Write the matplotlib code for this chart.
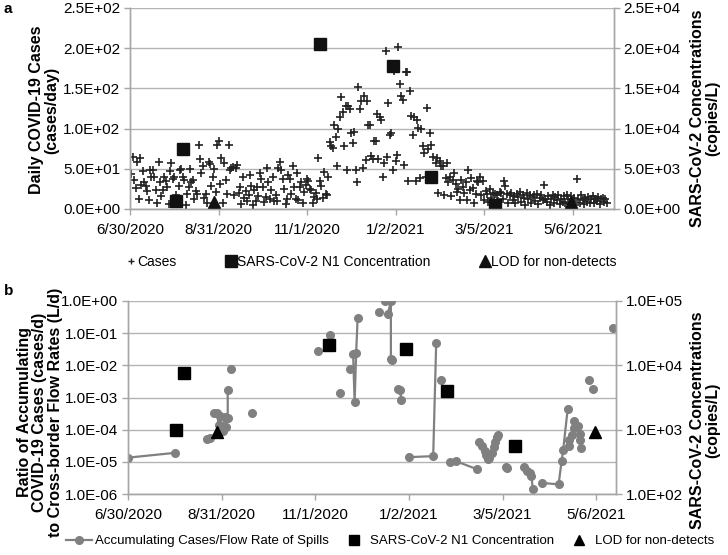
import numpy as np
import pandas as pd
import matplotlib
matplotlib.use("Agg")
import matplotlib.pyplot as plt
import matplotlib.dates as mdates
from matplotlib.lines import Line2D
from matplotlib.ticker import FixedLocator, FuncFormatter

plt.rcParams['font.family'] = ['Liberation Sans', 'DejaVu Sans']

# ---- data ----
cases_start = '2020-07-01'
daily_cases = [
    44, 65, 36, 26, 59, 12, 63, 30, 47, 34,
    29, 22, 11, 49, 40, 49, 40, 24, 8, 58,
    33, 16, 24, 40, 35, 27, 6, 47, 57, 37,
    40, 18, 9, 29, 49, 50, 40, 36, 5, 19,
    27, 50, 33, 36, 12, 22, 19, 80, 62, 45,
    53, 14, 19, 7, 58, 56, 29, 40, 50, 21,
    79, 85, 31, 64, 8, 57, 36, 19, 80, 48,
    51, 52, 17, 51, 55, 20, 27, 6, 40, 14,
    22, 10, 18, 42, 29, 5, 24, 10, 27, 16,
    45, 37, 27, 9, 15, 51, 33, 13, 24, 40,
    10, 18, 10, 51, 59, 49, 37, 25, 6, 12,
    42, 37, 19, 53, 27, 13, 45, 11, 27, 33,
    8, 21, 30, 37, 35, 25, 24, 8, 15, 20,
    12, 64, 35, 28, 14, 46, 19, 18, 40, 83,
    78, 76, 105, 90, 53, 100, 115, 139, 121, 78,
    128, 49, 128, 124, 95, 82, 96, 49, 34, 152,
    124, 134, 51, 140, 61, 134, 104, 105, 66, 62,
    85, 84, 118, 62, 115, 111, 40, 57, 196, 65,
    132, 92, 94, 49, 172, 60, 67, 201, 155, 140,
    136, 55, 171, 170, 35, 147, 116, 92, 114, 35,
    111, 101, 38, 100, 78, 70, 40, 126, 75, 95,
    80, 65, 42, 57, 63, 20, 60, 54, 53, 18,
    38, 57, 34, 40, 16, 36, 45, 31, 21, 25,
    11, 36, 27, 20, 33, 11, 49, 24, 38, 26,
    8, 19, 35, 33, 40, 17, 35, 11, 22, 19,
    9, 25, 14, 20, 6, 19, 17, 10, 21, 20,
    13, 35, 28, 19, 8, 18, 20, 11, 16, 7,
    19, 15, 21, 9, 18, 14, 5, 20, 12, 18,
    8, 15, 17, 10, 19, 6, 14, 18, 11, 30,
    13, 9, 16, 5, 12, 17, 8, 15, 11, 18,
    6, 13, 9, 16, 7, 18, 12, 6, 16, 10,
    14, 5, 37, 12, 8, 17, 11, 6, 14, 9,
    15, 7, 12, 16, 8, 13, 10, 15, 6, 12,
    14, 9, 13, 7,
]

conc_dates = ['2020-08-01', '2020-08-06', '2020-11-10', '2020-12-31', '2021-01-27', '2021-03-13']
conc_values = [1000, 7500, 20500, 17800, 4000, 550]
lod_dates = ['2020-08-28', '2021-05-05']
lod_values = [920, 920]

# '' / None marks a break in the line
ratio_dates = [
    '2020-06-30', '2020-07-31', '',
    '2020-08-21', '2020-08-23', '',
    '2020-08-26', '2020-08-28', '2020-08-29', '2020-08-30', '2020-09-01', '2020-09-02',
    '2020-09-03', '2020-09-04', '2020-09-04', '',
    '2020-09-06', '', '2020-09-20', '',
    '2020-11-03', '', '2020-11-11', '', '2020-11-17', '', '2020-11-24', '',
    '2020-11-26', '2020-11-27', '2020-11-28', '2020-11-29', '',
    '2020-12-13', '', '2020-12-17', '',
    '2020-12-19', '2020-12-21', '2020-12-21', '2020-12-22', '',
    '2020-12-26', '2020-12-27', '2020-12-28', '',
    '2021-01-02', '2021-01-18', '2021-01-20', '',
    '2021-01-23', '',
    '2021-01-29', '2021-02-02', '2021-02-16', '',
    '2021-02-17', '2021-02-19', '2021-02-21', '2021-02-22', '2021-02-23', '2021-02-24',
    '2021-02-26', '2021-02-27', '2021-02-28', '2021-03-01', '2021-03-02', '',
    '2021-03-07', '2021-03-08', '',
    '2021-03-19', '2021-03-21', '2021-03-23', '2021-03-24', '2021-03-25', '',
    '2021-03-31', '2021-04-11', '2021-04-13', '2021-04-14', '2021-04-17', '',
    '2021-04-18', '2021-04-18', '2021-04-20', '2021-04-21', '2021-04-21', '',
    '2021-04-24', '2021-04-25', '2021-04-25', '2021-04-26', '',
    '2021-05-01', '', '2021-05-04', '',
    '2021-05-17',
]
ratio_values = [
    1.35e-5, 1.9e-5, None,
    5.3e-5, 5.5e-5, None,
    3.4e-4, 3.3e-4, 1.4e-4, 2.6e-4, 9.3e-5, 2.4e-4,
    1.2e-4, 2.3e-4, 1.7e-3, None,
    7.7e-3, None, 3.2e-4, None,
    2.8e-2, None, 8.8e-2, None, 1.35e-3, None, 7.5e-3, None,
    2.2e-2, 7e-4, 2.4e-2, 3.0e-1, None,
    4.7e-1, None, 1.0, None,
    4.0e-1, 1.0, 1.6e-2, 1.5e-2, None,
    1.8e-3, 1.7e-3, 8.5e-4, None,
    1.4e-5, 1.5e-5, 5.0e-2, None,
    3.5e-3, None,
    9.9e-6, 1.05e-5, 5.9e-6, None,
    4.2e-5, 3.0e-5, 2.2e-5, 1.6e-5, 1.2e-5, 1.3e-5,
    1.85e-5, 2.8e-5, 4.2e-5, 6.0e-5, 6.8e-5, None,
    6.9e-6, 6.5e-6, None,
    6.9e-6, 5.3e-6, 4.6e-6, 3.5e-6, 1.4e-6, None,
    2.2e-6, 2.0e-6, 1.05e-5, 2.3e-5, 4.3e-4, None,
    3.0e-5, 4.7e-5, 6.8e-5, 1.1e-4, 1.8e-4, None,
    1.3e-4, 7.3e-5, 4.7e-5, 2.7e-5, None,
    3.5e-3, None, 1.8e-3, None,
    1.4e-1,
]

tick_dates = ['2020-06-30', '2020-08-31', '2020-11-01', '2021-01-02', '2021-03-05', '2021-05-06']
xlim_a = ('2020-06-30', '2021-06-04')
xlim_b = ('2020-06-30', '2021-05-19')


def dnum(dates):
    return mdates.date2num(pd.to_datetime(pd.Series(dates).replace('', None)).to_numpy())


sci = FuncFormatter(lambda v, p: f"{v:.1E}")
tick_x = dnum(tick_dates)
tick_lbl = [f"{d.month}/{d.day}/{d.year}" for d in pd.to_datetime(tick_dates)]
GRID = '#b4b4b4'
SPINE = '#a6a6a6'


def style(ax, ax2, xlim):
    ax.set_xlim(dnum(list(xlim)))
    ax.xaxis.set_major_locator(FixedLocator(tick_x))
    ax.set_xticklabels(tick_lbl)
    ax.yaxis.set_major_formatter(sci)
    ax2.yaxis.set_major_formatter(sci)
    ax.grid(axis='y', color=GRID, lw=1)
    ax.set_axisbelow(True)
    for a in (ax, ax2):
        a.spines['top'].set_visible(False)
        for s in ('left', 'right', 'bottom'):
            a.spines[s].set_color(SPINE)
            a.spines[s].set_linewidth(1)
        a.tick_params(axis='both', labelsize=11, color=SPINE, length=4, width=1)
    ax.tick_params(axis='x', pad=6)
    ax.tick_params(axis='y', pad=3)
    ax2.tick_params(axis='y', pad=3)


fig = plt.figure(figsize=(7.28, 5.55), dpi=100)
W, H = 728, 555

# ---- panel a ----
axa = fig.add_axes([130 / W, 1 - 209 / H, 484 / W, 201 / H])
axa2 = axa.twinx()
cx = mdates.date2num(pd.date_range(cases_start, periods=len(daily_cases), freq='D').to_numpy())
axa.plot(cx, daily_cases, ls='none', marker='+', ms=5.5, mew=1.2, color='#222222')
axa.set_ylim(0, 250)
axa.set_yticks(np.arange(0, 251, 50))
axa2.plot(dnum(conc_dates), conc_values, ls='none', marker='s', ms=9, color='#111111')
axa2.plot(dnum(lod_dates), lod_values, ls='none', marker='^', ms=9, color='#111111')
axa2.set_ylim(0, 25000)
axa2.set_yticks(np.arange(0, 25001, 5000))
style(axa, axa2, xlim_a)

# ---- panel b ----
axb = fig.add_axes([128 / W, 1 - 494 / H, 488 / W, 193 / H])
axb2 = axb.twinx()
rv = np.array([np.nan if v is None else v for v in ratio_values])
axb.plot(dnum(ratio_dates), rv, color='#808080', lw=1.6, marker='o', ms=5.5, mfc='#808080', mec='#808080')
axb.set_yscale('log')
axb.set_ylim(1e-6, 1)
axb.yaxis.set_major_locator(FixedLocator([10.0 ** k for k in range(-6, 1)]))
axb.yaxis.set_minor_locator(FixedLocator([]))
axb2.set_yscale('log')
axb2.plot(dnum(conc_dates), conc_values, ls='none', marker='s', ms=8.5, color='black')
axb2.plot(dnum(lod_dates), lod_values, ls='none', marker='^', ms=8.5, color='black')
axb2.set_ylim(1e2, 1e5)
axb2.yaxis.set_major_locator(FixedLocator([1e2, 1e3, 1e4, 1e5]))
axb2.yaxis.set_minor_locator(FixedLocator([]))
style(axb, axb2, xlim_b)

# ---- labels ----
lab = dict(rotation=90, ha='center', va='center', fontsize=11.5, fontweight='bold',
           multialignment='center', linespacing=1.05)
fig.text(44 / W, 1 - 110 / H, 'Daily COVID-19 Cases\n(cases/day)', **lab)
fig.text(705 / W, 1 - 118 / H, 'SARS-CoV-2 Concentrations\n(copies/L)', **lab)
fig.text(40 / W, 1 - 412 / H,
         'Ratio of Accumulating\nCOVID-19 Cases (cases/d)\nto Cross-border Flow Rates (L/d)', **lab)
fig.text(705 / W, 1 - 420 / H, 'SARS-CoV-2 Concentrations\n(copies/L)', **lab)
fig.text(4 / W, 1 - 9 / H, 'a', fontsize=11, fontweight='bold', va='center')
fig.text(4 / W, 1 - 291 / H, 'b', fontsize=11, fontweight='bold', va='center')

# ---- legends ----
h_a = [Line2D([], [], ls='none', marker='+', ms=5, mew=1, color='#222222'),
       Line2D([], [], ls='none', marker='s', ms=8, color='#111111'),
       Line2D([], [], ls='none', marker='^', ms=8, color='#111111')]
fig.legend(h_a, ['Cases', 'SARS-CoV-2 N1 Concentration', 'LOD for non-detects'],
           loc='center', bbox_to_anchor=(372 / W, 1 - 262 / H), ncol=3, frameon=False,
           fontsize=10, handlelength=0.6, handletextpad=0.15, columnspacing=3.6)
h_b = [Line2D([], [], color='#808080', lw=1.6, marker='o', ms=5.5),
       Line2D([], [], ls='none', marker='s', ms=7, color='black'),
       Line2D([], [], ls='none', marker='^', ms=7, color='black')]
fig.legend(h_b, ['Accumulating Cases/Flow Rate of Spills', 'SARS-CoV-2 N1 Concentration',
                 'LOD for non-detects'],
           loc='center', bbox_to_anchor=(390 / W, 1 - 541 / H), ncol=3, frameon=False,
           fontsize=9.5, handlelength=2.0, handletextpad=0.2, columnspacing=0.9)

fig.savefig('out.png', dpi=100)
